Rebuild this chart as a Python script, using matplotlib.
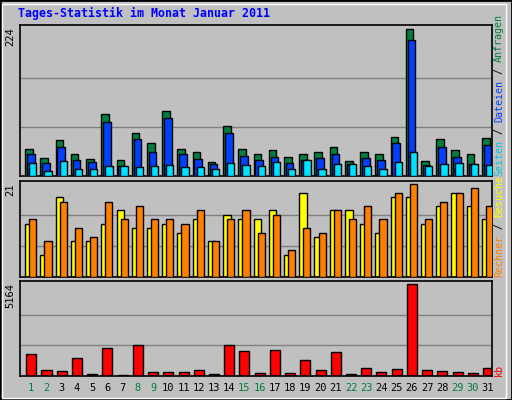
import matplotlib
matplotlib.use("Agg")
import matplotlib.pyplot as plt
from matplotlib.patches import Rectangle

days = list(range(1, 32))
weekend = [1, 2, 8, 9, 15, 16, 22, 23, 29, 30]

hits = [42, 28, 55, 33, 26, 95, 25, 66, 51, 100, 42, 36, 22, 77, 42, 33,
        40, 29, 34, 36, 45, 23, 36, 33, 60, 224, 23, 57, 39, 34, 58]
files = [33, 20, 45, 25, 22, 83, 16, 57, 37, 89, 33, 26, 19, 65, 31, 25,
         29, 20, 25, 28, 34, 19, 28, 25, 51, 208, 17, 45, 29, 19, 48]
pages = [20, 7, 23, 10, 10, 16, 16, 13, 16, 17, 13, 14, 10, 20, 17, 16,
         22, 10, 25, 11, 19, 19, 16, 11, 22, 36, 16, 19, 20, 19, 17]
visits = [12, 5, 18, 8, 8, 12, 15, 11, 11, 12, 10, 13, 8, 14, 13, 13,
          15, 5, 19, 9, 15, 15, 12, 10, 18, 18, 12, 16, 19, 16, 13]
hosts = [13, 8, 17, 11, 9, 17, 13, 16, 13, 13, 12, 15, 8, 13, 15, 10,
         14, 6, 11, 10, 15, 13, 16, 13, 19, 21, 13, 17, 19, 20, 16]
kbytes = [1206, 358, 302, 980, 132, 1545, 75, 1715, 245, 245, 245, 358, 132,
          1715, 1376, 188, 1432, 188, 923, 358, 1319, 132, 471, 245, 415, 5164,
          358, 302, 245, 188, 471]

BG = "#C0C0C0"
W, H = 512, 400
fig = plt.figure(figsize=(W / 100, H / 100), dpi=100, facecolor=BG)
fig.patches.append(Rectangle((0, 0), 1, 1, transform=fig.transFigure,
                             fill=False, ec="black", lw=2))
fig.patches.append(Rectangle((0.004, 0.005), 0.985, 0.985, transform=fig.transFigure,
                             fill=False, ec="white", lw=1))


def panel(top, bottom):
    ax = fig.add_axes([20 / W, 1 - bottom / H, 472 / W, (bottom - top) / H])
    ax.set_facecolor(BG)
    ax.set_xlim(0.5, 31.5)
    ax.set_xticks([])
    ax.set_yticks([])
    for s in ax.spines.values():
        s.set_color("black")
        s.set_linewidth(1.2)
    return ax


def grid(ax, vmax):
    for f in (1 / 3, 2 / 3):
        ax.axhline(vmax * f, color="#808080", lw=1, zorder=0)
    ax.set_ylim(0, vmax * 1.03)


kw = dict(edgecolor="black", linewidth=1)
mono = "DejaVu Sans Mono"

ax1 = panel(25, 176)
grid(ax1, max(hits))
x = [d for d in days]
ax1.bar([d + 0.09 for d in x], hits, 0.5, color="#008040", **kw, zorder=2)
ax1.bar([d + 0.21 for d in x], files, 0.5, color="#0040FF", **kw, zorder=3)
ax1.bar([d + 0.34 for d in x], pages, 0.48, color="#00E0FF", **kw, zorder=4)

ax2 = panel(181, 277)
grid(ax2, max(hosts))
ax2.bar([d + 0.09 for d in x], visits, 0.5, color="#FFFF00", **kw, zorder=2)
ax2.bar([d + 0.34 for d in x], hosts, 0.47, color="#FF8000", **kw, zorder=3)

ax3 = panel(281, 376)
grid(ax3, max(kbytes))
ax3.bar([d + 0.24 for d in x], kbytes, 0.66, color="#FF0000", **kw, zorder=2)

fig.text(18 / W, 1 - 13 / H, "Tages-Statistik im Monat Januar 2011", color="#0000FF",
         family=mono, weight="bold", fontsize=8.4, va="center")

# max value labels on the left
for val, ytop in ((max(hits), 27), (max(hosts), 183), (max(kbytes), 283)):
    fig.text(10 / W, 1 - ytop / H, str(val), rotation=90, family=mono, fontsize=7.5,
             ha="center", va="top")

# coloured legends on the right, reading upward
CH = 6.0


def legend(parts, ybase):
    y = ybase
    for txt, col in parts:
        fig.text(499 / W, 1 - y / H, txt, rotation=90, family=mono, fontsize=7.2,
                 color=col, ha="center", va="bottom")
        y -= CH * len(txt)


legend([("Seiten", "#00C8E8"), (" / ", "black"), ("Dateien", "#0040FF"),
        (" / ", "black"), ("Anfragen", "#008040")], 176)
legend([("Rechner", "#FF8000"), (" / ", "black"), ("Besuche", "#FFFF00")], 277)
legend([("kb", "#FF0000")], 376)

for d in days:
    col = "#008040" if d in weekend else "black"
    ax3.text(d + 0.24, -0.13, str(d), transform=ax3.get_xaxis_transform(),
             ha="center", va="center", family=mono, fontsize=7.5, color=col)

fig.savefig("out.png", dpi=100, facecolor=BG)
